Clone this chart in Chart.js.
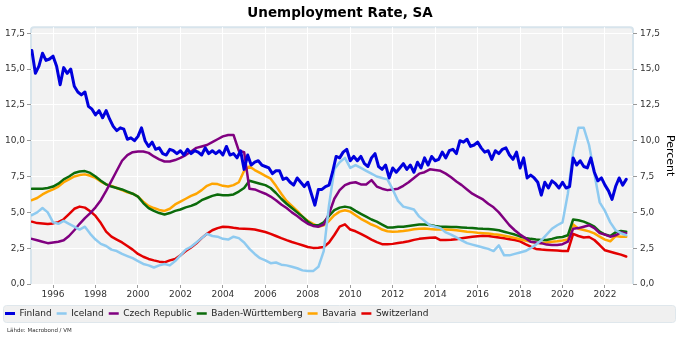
<!DOCTYPE html>
<html>
<head>
<meta charset="utf-8">
<script src="https://cdn.jsdelivr.net/npm/chart.js@4.4.0/dist/chart.umd.min.js"></script>
<style>
html, body { margin: 0; padding: 0; background: #fff; }
</style>
</head>
<body>
<canvas id="chart" width="680" height="340"></canvas>
<script>
// year ticks on the x axis, value ticks on both y axes
const yearTicks = [1996, 1998, 2000, 2002, 2004, 2006, 2008, 2010, 2012, 2014, 2016, 2018, 2020, 2022];
const rateTicks = [0, 2.5, 5, 7.5, 10, 12.5, 15, 17.5];

// Finland: every 2 months from Jan 1995
const finlandStart = 1995;
const finland = [
    16.3, 14.7, 15.2, 16.1, 15.6, 15.7,
    15.9, 15.2, 13.9, 15.1, 14.7, 15.0,
    13.8, 13.4, 13.2, 13.4, 12.4, 12.2,
    11.8, 12.1, 11.6, 12.1, 11.5, 11.0,
    10.7, 10.9, 10.8, 10.1, 10.2, 10.0,
    10.3, 10.9, 10.0, 9.6, 9.9, 9.4,
    9.5, 9.1, 9.0, 9.4, 9.3, 9.1,
    9.3, 9.0, 9.4, 9.1, 9.3, 9.2,
    9.0, 9.5, 9.1, 9.3, 9.1, 9.3,
    9.0, 9.6, 9.0, 9.1, 8.8, 9.3,
    8.0, 9.0, 8.3, 8.5, 8.6, 8.3,
    8.2, 8.1, 7.7, 7.9, 7.9, 7.3,
    7.4, 7.1, 6.9, 7.4, 7.1, 6.8,
    7.1, 6.3, 5.5, 6.6, 6.6, 6.8,
    6.9, 7.8, 8.9, 8.8, 9.2, 9.4,
    8.6, 8.9, 8.6, 8.9, 8.4, 8.2,
    8.8, 9.1, 8.2, 8.0, 8.3, 7.4,
    8.1, 7.8, 8.1, 8.4, 8.0, 8.3,
    7.8, 8.5, 8.1, 8.8, 8.3, 8.9,
    8.6, 8.7, 9.2, 8.8, 9.3, 9.4,
    9.1, 10.0, 9.9, 10.1, 9.6, 9.7,
    9.9, 9.5, 9.2, 9.3, 8.7, 9.3,
    9.1, 9.4, 9.5, 9.0, 8.7, 9.2,
    8.1, 8.8, 7.4, 7.6, 7.4, 7.1,
    6.2, 7.1, 6.7, 7.2, 7.0, 6.7,
    7.1, 6.7, 6.8, 8.8, 8.3, 8.6,
    8.2, 8.1, 8.8, 7.8, 7.2, 7.4,
    6.9, 6.5, 5.9, 6.8, 7.4, 6.9,
    7.3
];

// the others: quarterly from Q1 1995
const quarterStart = 1995;
const iceland = [
    4.8, 5.0, 5.3, 5.0,   4.3, 4.2, 4.4, 4.2,   4.0, 3.8, 4.0, 3.5,   3.1, 2.8, 2.65, 2.4,
    2.3, 2.1, 1.95, 1.8,  1.6, 1.4, 1.3, 1.15,  1.3, 1.4, 1.3, 1.6,   2.0, 2.4, 2.6, 2.9,
    3.2, 3.5, 3.35, 3.3,  3.15, 3.1, 3.3, 3.2,  2.9, 2.45, 2.1, 1.8,  1.65, 1.45, 1.5, 1.35,
    1.3, 1.2, 1.1, 0.95,  0.9, 0.9, 1.2, 2.3,   5.5, 8.0, 8.5, 8.8,   8.1, 8.3, 8.1, 7.9,
    7.7, 7.5, 7.4, 7.3,   6.6, 5.8, 5.4, 5.3,   5.2, 4.7, 4.4, 4.1,   4.0, 3.9, 3.6, 3.45,
    3.25, 3.05, 2.85, 2.75, 2.65, 2.55, 2.45, 2.3, 2.7, 2.0, 2.0, 2.1, 2.2, 2.3, 2.5, 2.75,
    3.05, 3.45, 3.85, 4.1, 4.3, 6.3, 9.2, 10.9, 10.9, 9.7, 7.7, 5.7,  5.1, 4.3, 3.75, 3.55,
    3.4
];
const czech = [
    3.15, 3.05, 2.95, 2.85, 2.9, 2.95, 3.05, 3.35, 3.75, 4.2, 4.6, 4.95, 5.35, 5.85, 6.5, 7.2,
    7.9, 8.6, 9.0, 9.2,   9.25, 9.25, 9.15, 8.9, 8.7, 8.55, 8.55, 8.65, 8.8, 9.0, 9.25, 9.5,
    9.6, 9.7, 9.9, 10.1,  10.3, 10.4, 10.4, 9.3, 9.2, 6.65, 6.6, 6.45, 6.3, 6.1, 5.85, 5.55,
    5.3, 5.0, 4.75, 4.45, 4.2, 4.05, 4.0, 4.15, 4.9, 5.95, 6.55, 6.9, 7.05, 7.1, 6.95, 6.95,
    7.25, 6.8, 6.65, 6.55, 6.6, 6.65, 6.85, 7.1, 7.4, 7.7, 7.8, 8.0,  7.95, 7.9, 7.7, 7.45,
    7.15, 6.9, 6.6, 6.3,  6.1, 5.9, 5.6, 5.35,  5.0, 4.55, 4.1, 3.75, 3.45, 3.2, 2.95, 2.9,
    2.85, 2.75, 2.72, 2.72, 2.78, 2.95, 3.85, 3.9, 4.0, 4.1, 3.9, 3.55, 3.45, 3.3, 3.4, 3.6,
    3.55
];
const badenWurttemberg = [
    6.65, 6.65, 6.65, 6.7, 6.8, 7.0, 7.3, 7.5,  7.75, 7.85, 7.88, 7.75, 7.5, 7.2, 6.95, 6.8,
    6.7, 6.6, 6.45, 6.3,  6.1, 5.65, 5.3, 5.1,  4.95, 4.85, 4.95, 5.1, 5.2, 5.35, 5.45, 5.6,
    5.85, 6.0, 6.15, 6.25, 6.2, 6.2, 6.25, 6.45, 6.7, 7.2, 7.1, 7.0,  6.9, 6.7, 6.35, 5.95,
    5.6, 5.3, 5.0, 4.7,   4.35, 4.1, 4.1, 4.3,  4.75, 5.15, 5.33, 5.4, 5.33, 5.1, 4.9, 4.7,
    4.5, 4.35, 4.15, 3.95, 3.95, 4.0, 4.0, 4.05, 4.1, 4.15, 4.15, 4.12, 4.05, 4.0, 4.0, 3.98,
    3.97, 3.95, 3.92, 3.9, 3.87, 3.85, 3.84, 3.8, 3.75, 3.65, 3.55, 3.45, 3.32, 3.22, 3.15, 3.1,
    3.07, 3.07, 3.15, 3.25, 3.28, 3.4, 4.5, 4.45, 4.35, 4.2, 4.0, 3.65, 3.45, 3.35, 3.6, 3.7,
    3.65
];
const bavaria = [
    5.85, 6.0, 6.25, 6.45, 6.6, 6.8, 7.1, 7.3,  7.5, 7.6, 7.65, 7.55,  7.4, 7.15, 6.95, 6.85,
    6.7, 6.55, 6.4, 6.3,  6.1, 5.75, 5.45, 5.3, 5.17, 5.1, 5.25, 5.55, 5.75, 5.95, 6.15, 6.3,
    6.55, 6.85, 7.0, 6.97, 6.85, 6.8, 6.9, 7.1, 7.9, 8.2, 7.95, 7.75, 7.55, 7.35, 6.85, 6.3,
    5.8, 5.45, 5.1, 4.7,  4.4, 4.2, 4.0, 4.1,   4.4, 4.8, 5.05, 5.15, 5.05, 4.8, 4.55, 4.35,
    4.15, 4.0, 3.8, 3.68, 3.65, 3.66, 3.7, 3.75, 3.82, 3.86, 3.88, 3.84, 3.81, 3.8, 3.8, 3.78,
    3.75, 3.7, 3.65, 3.62, 3.58, 3.55, 3.52, 3.47, 3.43, 3.37, 3.3, 3.22, 3.12, 3.03, 2.95, 2.88,
    2.84, 2.9, 2.95, 2.98, 3.03, 3.1, 4.15, 3.85, 3.77, 3.67, 3.53, 3.3, 3.1, 2.98, 3.35, 3.3,
    3.3
];
const switzerland = [
    4.35, 4.25, 4.22, 4.19, 4.23, 4.32, 4.52, 4.88, 5.25, 5.4, 5.33, 5.08, 4.75, 4.25, 3.65, 3.3,
    3.1, 2.9, 2.65, 2.4,  2.1, 1.9, 1.75, 1.65, 1.56, 1.51, 1.65, 1.75, 2.0, 2.3, 2.55, 2.84,
    3.2, 3.5, 3.75, 3.9,  4.0, 3.97, 3.92, 3.88, 3.86, 3.84, 3.8, 3.72, 3.63, 3.5, 3.35, 3.2,
    3.06, 2.93, 2.82, 2.7, 2.58, 2.52, 2.53, 2.58, 2.9, 3.42, 4.0, 4.16, 3.8, 3.68, 3.5, 3.3,
    3.1, 2.92, 2.78, 2.77, 2.8, 2.86, 2.91, 2.98, 3.08, 3.15, 3.2, 3.23, 3.25, 3.07, 3.07, 3.08,
    3.12, 3.19, 3.25, 3.3, 3.34, 3.37, 3.35, 3.3, 3.25, 3.19, 3.13, 3.07, 2.98, 2.78, 2.6, 2.45,
    2.4, 2.38, 2.36, 2.33, 2.3, 2.3, 3.5, 3.35, 3.25, 3.28, 3.07, 2.72, 2.35, 2.25, 2.15, 2.05,
    1.92
];

function toPoints(values, start, perYear) {
    return values.map(function(v, i) { return {x: start + i / perYear, y: v}; });
}

function fmt(v) {
    return v.toFixed(1).replace('.', ',');
}

const font = "'DejaVu Sans', Verdana, sans-serif";

// plot background, frame, legend panel and source line
const decor = {
    id: 'decor',
    beforeDraw: function(chart) {
        const ctx = chart.ctx;
        const a = chart.chartArea;
        ctx.save();
        ctx.fillStyle = '#f2f2f2';
        ctx.fillRect(a.left, a.top, a.right - a.left, a.bottom - a.top);
        ctx.strokeStyle = '#d7e4ec';
        ctx.lineWidth = 2;
        ctx.beginPath();
        ctx.moveTo(a.left, a.bottom);
        ctx.lineTo(a.left, a.top + 3);
        ctx.quadraticCurveTo(a.left, a.top, a.left + 3, a.top);
        ctx.lineTo(a.right - 3, a.top);
        ctx.quadraticCurveTo(a.right, a.top, a.right, a.top + 3);
        ctx.lineTo(a.right, a.bottom);
        ctx.stroke();

        const lg = chart.legend;
        ctx.fillStyle = '#f0f0f0';
        ctx.strokeStyle = '#dfe7ec';
        ctx.lineWidth = 1;
        ctx.beginPath();
        ctx.roundRect(3.5, lg.top + 1.5, 672, 17, 3);
        ctx.fill();
        ctx.stroke();

        ctx.fillStyle = '#333';
        ctx.font = "5.5px " + font;
        ctx.textBaseline = 'middle';
        ctx.fillText('Lähde: Macrobond / VM', 7, 331);
        ctx.restore();
    }
};

const ctx = document.getElementById('chart');

new Chart(ctx, {
    type: 'line',
    data: {
        datasets: [
            {label: 'Finland', data: toPoints(finland, finlandStart, 6), borderColor: '#0000dd', backgroundColor: '#0000dd', borderWidth: 3},
            {label: 'Iceland', data: toPoints(iceland, quarterStart, 4), borderColor: '#8ecaf0', backgroundColor: '#8ecaf0', borderWidth: 2.5},
            {label: 'Czech Republic', data: toPoints(czech, quarterStart, 4), borderColor: '#800080', backgroundColor: '#800080', borderWidth: 2.5},
            {label: 'Baden-Württemberg', data: toPoints(badenWurttemberg, quarterStart, 4), borderColor: '#0b6b0b', backgroundColor: '#0b6b0b', borderWidth: 2.5},
            {label: 'Bavaria', data: toPoints(bavaria, quarterStart, 4), borderColor: '#ffa500', backgroundColor: '#ffa500', borderWidth: 2.5},
            {label: 'Switzerland', data: toPoints(switzerland, quarterStart, 4), borderColor: '#e30000', backgroundColor: '#e30000', borderWidth: 2.5}
        ]
    },
    options: {
        responsive: false,
        animation: false,
        devicePixelRatio: 1,
        layout: {padding: {left: 0, right: 0, top: 0, bottom: 12}},
        elements: {
            point: {radius: 0},
            line: {tension: 0, borderJoinStyle: 'round', borderCapStyle: 'round'}
        },
        plugins: {
            title: {
                display: true,
                text: 'Unemployment Rate, SA',
                color: '#000',
                font: {family: font, size: 13.5, weight: 'bold'},
                padding: {top: 5, bottom: 6}
            },
            legend: {
                position: 'bottom',
                align: 'start',
                labels: {
                    color: '#222',
                    font: {family: font, size: 9},
                    usePointStyle: true,
                    pointStyle: 'line',
                    pointStyleWidth: 10,
                    boxHeight: 9,
                    padding: 5
                }
            },
            tooltip: {enabled: false}
        },
        scales: {
            x: {
                type: 'linear',
                min: 1994.96,
                max: 2023.32,
                afterBuildTicks: function(scale) {
                    scale.ticks = yearTicks.map(function(v) { return {value: v}; });
                },
                afterFit: function(scale) { scale.height = 20; },
                ticks: {
                    color: '#333',
                    font: {family: font, size: 9},
                    padding: 1,
                    maxRotation: 0,
                    callback: function(v) { return String(v); }
                },
                grid: {color: '#ffffff', lineWidth: 1, tickColor: '#999', tickLength: 4},
                border: {display: false}
            },
            y: {
                position: 'left',
                min: 0,
                max: 17.92,
                afterBuildTicks: function(scale) {
                    scale.ticks = rateTicks.map(function(v) { return {value: v}; });
                },
                afterFit: function(scale) { scale.width = 31; },
                ticks: {
                    color: '#333',
                    font: {family: font, size: 9},
                    padding: 2,
                    callback: function(v) { return fmt(v); }
                },
                grid: {color: '#ffffff', lineWidth: 1, tickColor: '#999', tickLength: 4},
                border: {display: false}
            },
            y2: {
                position: 'right',
                min: 0,
                max: 17.92,
                afterBuildTicks: function(scale) {
                    scale.ticks = rateTicks.map(function(v) { return {value: v}; });
                },
                afterFit: function(scale) { scale.width = 47; },
                ticks: {
                    color: '#333',
                    font: {family: font, size: 9},
                    padding: 3,
                    callback: function(v) { return fmt(v); }
                },
                title: {
                    display: true,
                    text: 'Percent',
                    color: '#000',
                    font: {family: font, size: 11},
                    padding: {top: 4, bottom: 0}
                },
                grid: {drawOnChartArea: false, tickColor: '#999', tickLength: 4},
                border: {display: false}
            }
        }
    },
    plugins: [decor]
});
</script>
</body>
</html>
